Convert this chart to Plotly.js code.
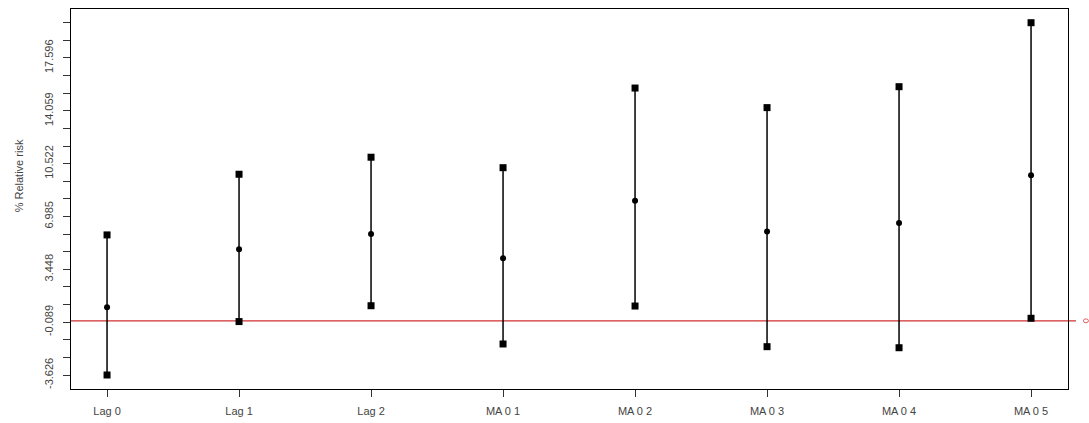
<!DOCTYPE html>
<html>
<head>
<meta charset="utf-8">
<script src="https://cdn.plot.ly/plotly-3.0.1.min.js"></script>
<style>html,body{margin:0;padding:0;background:#fff;}#chart{width:1089px;height:423px;}</style>
</head>
<body>
<div id="chart"></div>
<script>
// Data
const categories = ["Lag 0", "Lag 1", "Lag 2", "MA 0 1", "MA 0 2", "MA 0 3", "MA 0 4", "MA 0 5"];
const estimate = [0.91, 4.79, 5.81, 4.18, 8.04, 5.97, 6.55, 9.74];
const lower    = [-3.626, -0.05, 1.01, -1.55, 0.99, -1.73, -1.80, 0.17];
const upper    = [5.75, 9.81, 10.95, 10.25, 15.58, 14.27, 15.67, 19.954];
const yTickValues = [-3.626, -2.447, -1.268, -0.089, 1.090, 2.269, 3.448, 4.627, 5.806, 6.985, 8.164, 9.343, 10.522, 11.701, 12.880, 14.059, 15.238, 16.417, 17.596, 18.775, 19.954];
const yTickLabels = ["-3.626", "", "", "-0.089", "", "", "3.448", "", "", "6.985", "", "", "10.522", "", "", "14.059", "", "", "17.596", "", ""];
const yTitle = "% Relative risk";
const referenceLine = 0;

const idx = categories.map((c, i) => i);

// Vertical interval segments
const segX = [], segY = [];
idx.forEach(i => { segX.push(i, i, null); segY.push(lower[i], upper[i], null); });

const traces = [
  {x: segX, y: segY, mode: 'lines', type: 'scatter', line: {color: '#000', width: 1.5}, hoverinfo: 'skip', showlegend: false},
  {x: idx, y: lower, mode: 'markers', type: 'scatter', marker: {symbol: 'square', size: 7, color: '#000'}, showlegend: false},
  {x: idx, y: upper, mode: 'markers', type: 'scatter', marker: {symbol: 'square', size: 7, color: '#000'}, showlegend: false},
  {x: idx, y: estimate, mode: 'markers', type: 'scatter', marker: {symbol: 'circle', size: 6, color: '#000'}, showlegend: false}
];

const tickFont = {family: 'Liberation Sans, Arial, sans-serif', size: 11, color: '#444'};

const layout = {
  width: 1089, height: 423,
  margin: {l: 71, r: 21, t: 9, b: 34, pad: 0},
  paper_bgcolor: '#fff', plot_bgcolor: '#fff',
  showlegend: false,
  xaxis: {
    range: [-0.273, 7.28],
    tickmode: 'array', tickvals: idx, ticktext: categories,
    ticks: 'outside', ticklen: 7, tickwidth: 1, tickcolor: '#333',
    ticklabelstandoff: 5,
    showline: true, linecolor: '#000', linewidth: 1, mirror: true,
    showgrid: false, zeroline: false,
    tickfont: tickFont
  },
  yaxis: {
    range: [-4.563, 20.87],
    tickmode: 'array', tickvals: yTickValues, ticktext: yTickLabels,
    tickangle: -90,
    ticks: 'outside', ticklen: 7, tickwidth: 1, tickcolor: '#333',
    ticklabelstandoff: 6,
    showline: true, linecolor: '#000', linewidth: 1, mirror: true,
    showgrid: false, zeroline: false,
    tickfont: tickFont
  },
  annotations: [
    {xref: 'paper', yref: 'paper', x: -0.052, y: 0.56, text: yTitle, textangle: -90, showarrow: false,
     xanchor: 'center', yanchor: 'middle', font: {family: 'Liberation Sans, Arial, sans-serif', size: 11, color: '#444'}}
  ],
  shapes: [
    {type: 'line', xref: 'paper', x0: 0, x1: 1.008, yref: 'y', y0: referenceLine, y1: referenceLine,
     line: {color: '#d03030', width: 1.2}, layer: 'below'},
    {type: 'circle', xref: 'paper', x0: 1.0155, x1: 1.0205, yref: 'y', y0: referenceLine - 0.13, y1: referenceLine + 0.13,
     line: {color: '#e06060', width: 1}, fillcolor: 'rgba(0,0,0,0)'}
  ]
};

Plotly.newPlot('chart', traces, layout, {staticPlot: true, displayModeBar: false});
</script>
</body>
</html>
